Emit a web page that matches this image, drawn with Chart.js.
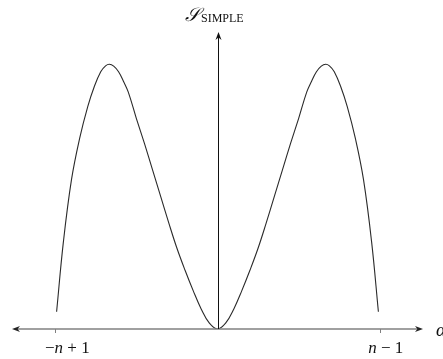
<!DOCTYPE html>
<html>
<head>
    <title>S_SIMPLE</title>
    <script src="https://cdn.jsdelivr.net/npm/chart.js"></script>
    <style>
        body { margin: 0; background: white; }
        canvas { display: block; }
    </style>
</head>
<body>
    <canvas id="chart" width="443" height="359"></canvas>

    <script>
        // alpha positions, in units of (n - 1)
        const alphaValues = [
            -0.992, -0.95, -0.90, -0.85, -0.80, -0.76, -0.72, -0.69, -0.667, -0.64, -0.61, -0.58,
            -0.55, -0.50, -0.45, -0.40, -0.35, -0.30, -0.25, -0.20, -0.15, -0.10, -0.05,
            0,
            0.05, 0.10, 0.15, 0.20, 0.25, 0.30, 0.35, 0.40, 0.45, 0.50,
            0.55, 0.58, 0.61, 0.64, 0.667, 0.69, 0.72, 0.76, 0.80, 0.85, 0.90, 0.95, 0.992
        ];
        // S_SIMPLE, relative to its maximum
        const simpleValues = [
            0.065, 0.330, 0.565, 0.720, 0.840, 0.915, 0.972, 0.994, 1.000, 0.993, 0.972, 0.936,
            0.895, 0.795, 0.700, 0.600, 0.500, 0.400, 0.305, 0.222, 0.145, 0.075, 0.022,
            0,
            0.022, 0.075, 0.145, 0.222, 0.305, 0.400, 0.500, 0.600, 0.700, 0.795,
            0.895, 0.936, 0.972, 0.993, 1.000, 0.994, 0.972, 0.915, 0.840, 0.720, 0.565, 0.330, 0.065
        ];
        const tickValues = [-1, 1];
        // each label split into [text, italic] pieces
        const tickLabels = [
            [['−', false], ['n', true], [' + 1', false]],
            [['n', true], [' − 1', false]]
        ];
        const yTitle = '𝒮';
        const yTitleSub = 'SIMPLE';
        const xTitle = 'α';

        const serif = '"Liberation Serif", "DejaVu Serif", serif';

        function arrow(ctx, x, y, dx, dy) {
            // filled arrowhead with its tip at (x, y) pointing along (dx, dy)
            const len = 8, half = 3;
            const px = -dy, py = dx;
            ctx.beginPath();
            ctx.moveTo(x, y);
            ctx.lineTo(x - dx * len + px * half, y - dy * len + py * half);
            ctx.lineTo(x - dx * len * 0.7, y - dy * len * 0.7);
            ctx.lineTo(x - dx * len - px * half, y - dy * len - py * half);
            ctx.closePath();
            ctx.fill();
        }

        function drawPieces(ctx, pieces, cx, baseline, size) {
            const widths = pieces.map(([t, it]) => {
                ctx.font = (it ? 'italic ' : '') + size + 'px ' + serif;
                return ctx.measureText(t).width;
            });
            let x = cx - widths.reduce((a, b) => a + b, 0) / 2;
            pieces.forEach(([t, it], i) => {
                ctx.font = (it ? 'italic ' : '') + size + 'px ' + serif;
                ctx.fillText(t, x, baseline);
                x += widths[i];
            });
        }

        const axesPlugin = {
            id: 'arrowAxes',
            afterDatasetsDraw(chart) {
                const ctx = chart.ctx;
                const xs = chart.scales.x, ys = chart.scales.y;
                const y0 = ys.getPixelForValue(0);
                const x0 = xs.getPixelForValue(0);
                const left = chart.chartArea.left, right = chart.chartArea.right;
                const top = chart.chartArea.top;
                ctx.save();

                // horizontal axis
                ctx.strokeStyle = '#808080';
                ctx.lineWidth = 1.6;
                ctx.beginPath();
                ctx.moveTo(left + 4, y0);
                ctx.lineTo(right - 4, y0);
                ctx.stroke();
                ctx.fillStyle = '#222';
                arrow(ctx, left, y0, -1, 0);
                arrow(ctx, right, y0, 1, 0);

                // ticks
                ctx.strokeStyle = '#808080';
                ctx.lineWidth = 1;
                tickValues.forEach(v => {
                    const px = Math.round(xs.getPixelForValue(v)) + 0.5;
                    ctx.beginPath();
                    ctx.moveTo(px, y0);
                    ctx.lineTo(px, y0 + 4);
                    ctx.stroke();
                });

                // vertical axis
                ctx.strokeStyle = '#111';
                ctx.lineWidth = 1;
                ctx.beginPath();
                ctx.moveTo(Math.round(x0) + 0.5, y0);
                ctx.lineTo(Math.round(x0) + 0.5, top + 4);
                ctx.stroke();
                ctx.fillStyle = '#111';
                arrow(ctx, Math.round(x0) + 0.5, top, 0, -1);

                // labels
                ctx.fillStyle = '#111';
                ctx.textBaseline = 'alphabetic';
                tickValues.forEach((v, i) => {
                    const shift = v < 0 ? 12 : 6;
                    drawPieces(ctx, tickLabels[i], xs.getPixelForValue(v) + shift, 353, 17);
                });

                ctx.font = 'italic 19px ' + serif;
                ctx.fillText(yTitle, 185, 21);
                const sw = ctx.measureText(yTitle).width;
                ctx.font = '12px ' + serif;
                ctx.fillText(yTitleSub, 185 + sw + 1, 22);

                ctx.font = 'italic 19px ' + serif;
                ctx.fillText(xTitle, 436, 336);
                ctx.restore();
            }
        };

        new Chart(document.getElementById('chart'), {
            type: 'line',
            data: {
                datasets: [{
                    data: alphaValues.map((a, i) => ({ x: a, y: simpleValues[i] })),
                    borderColor: '#2a2a2a',
                    borderWidth: 1.1,
                    pointRadius: 0,
                    tension: 0.4,
                    fill: false
                }]
            },
            options: {
                responsive: false,
                animation: false,
                layout: { padding: { left: 12, right: 20, top: 32, bottom: 30 } },
                plugins: { legend: { display: false }, tooltip: { enabled: false } },
                scales: {
                    x: { type: 'linear', min: -1.267, max: 1.267, display: false },
                    y: { min: 0, max: 1.122, display: false }
                }
            },
            plugins: [axesPlugin]
        });
    </script>
</body>
</html>
